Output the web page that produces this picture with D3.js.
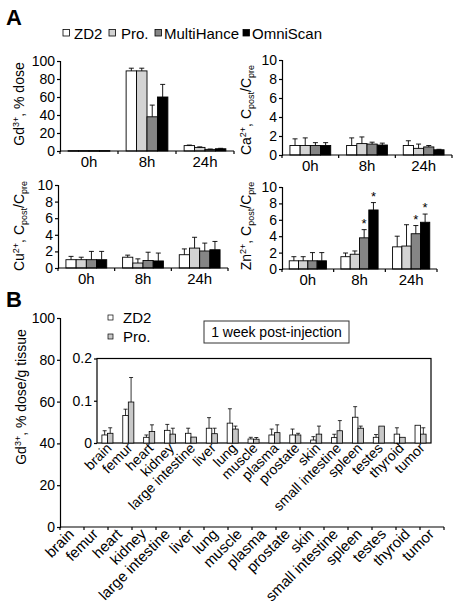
<!DOCTYPE html>
<html><head><meta charset="utf-8">
<script src="https://cdn.jsdelivr.net/npm/d3@7"></script>
<style>
body{margin:0;background:#fff;}
text{font-family:"Liberation Sans",Arial,sans-serif;fill:#000;}
</style></head><body>
<svg id="c" width="461" height="607"></svg>
<script>
// ---------- DATA ----------
const timepoints = ["0h","8h","24h"];
const agents = ["ZD2","Pro.","MultiHance","OmniScan"];
const agentColors = ["#ffffff","#d3d3d3","#858585","#000000"];

// values per timepoint (rows) per agent (cols)
const gdMean = [[0.4,0.4,0.4,0.4],[89,89,38,60],[6,4,1.8,2.5]];
const gdErr  = [[0,0,0,0],[3,3,13,14],[0.6,0.6,0.4,0.5]];
const gdTicks = [0,20,40,60,80,100];

const caMean = [[1,1,1,1],[1,1.2,1.15,1.05],[1,0.7,0.85,0.55]];
const caErr  = [[0.7,0.8,0.3,0.3],[0.8,0.7,0.2,0.2],[0.5,0.45,0.15,0.05]];

const cuMean = [[1,1,1,1],[1.3,0.6,0.9,0.85],[1.6,2.4,2.05,2.2]];
const cuErr  = [[0.4,0.3,1.0,1.0],[0.25,0.5,1.0,0.95],[0.7,1.3,0.95,1.0]];

const znMean = [[1,1,1,1],[1.5,1.8,3.8,7.2],[2.7,2.8,4.3,5.7]];
const znErr  = [[0.5,0.5,1.0,1.0],[0.45,0.4,1.0,0.9],[1.3,2.6,1.0,1.0]];
const znStars = [[0,0,0,0],[0,0,1,1],[0,0,1,1]];
const ratioTicks = [0,2,4,6,8,10];

const tissues = ["brain","femur","heart","kidney","large intestine","liver","lung","muscle","plasma","prostate","skin","small intestine","spleen","testes","thyroid","tumor"];
const bSeries = ["ZD2","Pro."];
const bColors = ["#ffffff","#c8c8c8"];
const zd2Mean = [0.019,0.065,0.0135,0.030,0.023,0.035,0.047,0.0095,0.019,0.019,0.007,0.0127,0.061,0.0135,0.021,0.042];
const zd2Err  = [0.010,0.015,0.0055,0.014,0.012,0.025,0.034,0.004,0.014,0.014,0.008,0.008,0.025,0.0065,0.015,0];
const proMean = [0.023,0.097,0.027,0.021,0.014,0.022,0.033,0.009,0.0245,0.019,0.021,0.029,0.035,0.040,0.0135,0.021];
const proErr  = [0.013,0.058,0.016,0.014,0,0.013,0.007,0.004,0.0185,0.004,0.019,0.024,0.005,0,0,0.015];
const outerTicks = [0,20,40,60,80,100];
const insetTicks = [0,0.1,0.2];

// ---------- HELPERS ----------
const svg = d3.select("#c");
const FS = 14;

function rich(sel, parts){
  parts.forEach((p,i)=>{
    const prev = i>0 ? parts[i-1] : null;
    let dy = 0;
    if(p.sup) dy = -5; else if(p.sub) dy = 3;
    if(prev){ if(prev.sup) dy += 5; else if(prev.sub) dy -= 3; }
    const t = sel.append("tspan").text(p.t).attr("dy", dy);
    if(p.sup||p.sub) t.attr("font-size", 9);
  });
}

function panelA(cfg){
  const g = svg.append("g");
  const x = d3.scaleBand().domain(timepoints).range([cfg.x0,cfg.x1]);
  const bw = x.bandwidth();
  const xs = d3.scaleBand().domain(agents).range([bw*0.14, bw*0.86]);
  const y = d3.scaleLinear().domain([0,cfg.max]).range([cfg.y0,cfg.y1]);

  timepoints.forEach((tp,i)=>{
    agents.forEach((ag,j)=>{
      const v = cfg.mean[i][j], e = cfg.err[i][j];
      const bx = x(tp)+xs(ag);
      g.append("rect").attr("x",bx).attr("y",y(v)).attr("width",xs.bandwidth())
        .attr("height",Math.max(0.6,y(0)-y(v))).attr("fill",agentColors[j])
        .attr("stroke","#000").attr("stroke-width",0.9);
      const cx = bx + xs.bandwidth()/2;
      if(e>0){
        g.append("line").attr("x1",cx).attr("x2",cx).attr("y1",y(v)).attr("y2",y(v+e)).attr("stroke","#000").attr("stroke-width",0.9);
        g.append("line").attr("x1",cx-2.5).attr("x2",cx+2.5).attr("y1",y(v+e)).attr("y2",y(v+e)).attr("stroke","#000").attr("stroke-width",0.9);
      }
      if(cfg.stars && cfg.stars[i][j]){
        g.append("text").attr("x",cx).attr("y",y(v+e)-2).attr("text-anchor","middle").attr("font-size",13).text("*");
      }
    });
  });

  const ya = d3.axisLeft(y).tickValues(cfg.ticks).tickSize(3).tickPadding(2).tickFormat(d3.format("d"));
  const yg = g.append("g").attr("transform",`translate(${cfg.x0},0)`).call(ya);
  yg.select(".domain").attr("stroke","#000").attr("stroke-width",1.2);
  yg.selectAll("text").attr("font-size",FS).attr("font-family","Liberation Sans, Arial, sans-serif");
  yg.selectAll(".tick line").attr("stroke-width",1.2);

  const xg = g.append("g");
  xg.append("line").attr("x1",cfg.x0).attr("x2",cfg.x1).attr("y1",cfg.y0).attr("y2",cfg.y0).attr("stroke","#000").attr("stroke-width",1.2);
  const bounds = timepoints.map(t=>x(t)).concat([cfg.x1]);
  bounds.forEach(b=>xg.append("line").attr("x1",b).attr("x2",b).attr("y1",cfg.y0).attr("y2",cfg.y0+3).attr("stroke","#000").attr("stroke-width",1.2));
  timepoints.forEach(t=>xg.append("text").attr("x",x(t)+bw/2).attr("y",cfg.y0+16).attr("text-anchor","middle").attr("font-size",15).text(t));

  const yl = g.append("text").attr("transform",`translate(${cfg.lx},${cfg.ly}) rotate(-90)`).attr("text-anchor","middle").attr("font-size",FS);
  rich(yl, cfg.label);
}

// ---------- PANEL A ----------
svg.append("text").attr("x",6).attr("y",25).attr("font-size",22).attr("font-weight","bold").text("A");

const legSq = [63,109,155,243];
const legTx = [74,121,164,252];
agents.forEach((a,i)=>{
  svg.append("rect").attr("x",legSq[i]).attr("y",29.5).attr("width",6.5).attr("height",6.5)
    .attr("fill",agentColors[i]).attr("stroke","#000").attr("stroke-width",0.8);
  svg.append("text").attr("x",legTx[i]).attr("y",38.5).attr("font-size",15).text(a);
});

panelA({x0:60,x1:234,y0:151,y1:61,max:100,ticks:gdTicks,mean:gdMean,err:gdErr,lx:24,ly:104,
  label:[{t:"Gd"},{t:"3+",sup:true},{t:", % dose"}]});
panelA({x0:282,x1:452,y0:155,y1:60,max:10,ticks:ratioTicks,mean:caMean,err:caErr,lx:251,ly:110,
  label:[{t:"Ca"},{t:"2+",sup:true},{t:", C"},{t:"post",sub:true},{t:"/C"},{t:"pre",sub:true}]});
panelA({x0:58,x1:228,y0:268,y1:185,max:10,ticks:ratioTicks,mean:cuMean,err:cuErr,lx:24,ly:226,
  label:[{t:"Cu"},{t:"2+",sup:true},{t:", C"},{t:"post",sub:true},{t:"/C"},{t:"pre",sub:true}]});
panelA({x0:282,x1:437,y0:269,y1:187,max:10,ticks:ratioTicks,mean:znMean,err:znErr,stars:znStars,lx:251,ly:226,
  label:[{t:"Zn"},{t:"2+",sup:true},{t:", C"},{t:"post",sub:true},{t:"/C"},{t:"pre",sub:true}]});

// ---------- PANEL B ----------
svg.append("text").attr("x",6).attr("y",307).attr("font-size",22).attr("font-weight","bold").text("B");

const ox = d3.scaleBand().domain(tissues).range([60,444]);
const oy = d3.scaleLinear().domain([0,100]).range([527,318]);
const oyg = svg.append("g").attr("transform","translate(60,0)")
  .call(d3.axisLeft(oy).tickValues(outerTicks).tickSize(3).tickPadding(2));
oyg.select(".domain").attr("stroke-width",1.2);
oyg.selectAll(".tick line").attr("stroke-width",1.2);
oyg.selectAll("text").attr("font-size",FS).attr("font-family","Liberation Sans, Arial, sans-serif");
svg.append("line").attr("x1",60).attr("x2",444).attr("y1",527).attr("y2",527).attr("stroke","#000").attr("stroke-width",1.2);
tissues.map(t=>ox(t)).concat([444]).forEach(b=>svg.append("line").attr("x1",b).attr("x2",b).attr("y1",527).attr("y2",530).attr("stroke","#000").attr("stroke-width",1.2));
tissues.forEach(t=>{
  svg.append("text").attr("transform",`translate(${ox(t)+ox.bandwidth()/2+3},${535}) rotate(-45)`)
    .attr("text-anchor","end").attr("font-size",15).text(t);
});
const byl = svg.append("text").attr("transform","translate(26,397) rotate(-90)").attr("text-anchor","middle").attr("font-size",FS);
rich(byl,[{t:"Gd"},{t:"3+",sup:true},{t:", % dose/g tissue"}]);

bSeries.forEach((s,i)=>{
  svg.append("rect").attr("x",108).attr("y",315+i*19).attr("width",5).attr("height",5)
    .attr("fill",bColors[i]).attr("stroke","#000").attr("stroke-width",0.7);
  svg.append("text").attr("x",123).attr("y",323+i*19).attr("font-size",15).text(s);
});
svg.append("rect").attr("x",204).attr("y",321).attr("width",145).attr("height",22).attr("fill","#fff").attr("stroke","#333").attr("stroke-width",1);
svg.append("text").attr("x",276.5).attr("y",337).attr("text-anchor","middle").attr("font-size",FS).text("1 week post-injection");

const ix = d3.scaleBand().domain(tissues).range([97,431]);
const iy = d3.scaleLinear().domain([0,0.2]).range([443,358.5]);
const ibw = ix.bandwidth();
const ixs = d3.scaleBand().domain(bSeries).range([ibw*0.235, ibw*0.765]);
svg.append("rect").attr("x",97).attr("y",iy(0.2)).attr("width",431-97).attr("height",iy(0)-iy(0.2))
  .attr("fill","none").attr("stroke","#000").attr("stroke-width",1.2);
const bMeans=[zd2Mean,proMean], bErrs=[zd2Err,proErr];
tissues.forEach((t,i)=>{
  bSeries.forEach((s,j)=>{
    const v=bMeans[j][i], e=bErrs[j][i];
    const bx = ix(t)+ixs(s);
    svg.append("rect").attr("x",bx).attr("y",iy(v)).attr("width",ixs.bandwidth()).attr("height",iy(0)-iy(v))
      .attr("fill",bColors[j]).attr("stroke","#000").attr("stroke-width",0.8);
    const cx = bx+ixs.bandwidth()/2;
    if(e>0){
      svg.append("line").attr("x1",cx).attr("x2",cx).attr("y1",iy(v)).attr("y2",iy(v+e)).attr("stroke","#000").attr("stroke-width",0.8);
      svg.append("line").attr("x1",cx-2).attr("x2",cx+2).attr("y1",iy(v+e)).attr("y2",iy(v+e)).attr("stroke","#000").attr("stroke-width",0.8);
    }
  });
  svg.append("text").attr("transform",`translate(${ix(t)+ibw/2+5},${449}) rotate(-45)`)
    .attr("text-anchor","end").attr("font-size",FS).text(t);
});
const iyg = svg.append("g").attr("transform","translate(97,0)")
  .call(d3.axisLeft(iy).tickValues(insetTicks).tickSize(3).tickPadding(2).tickFormat(d=>d===0?"0":d3.format(".1f")(d)));
iyg.select(".domain").remove();
iyg.selectAll(".tick line").attr("stroke-width",1.2);
iyg.selectAll("text").attr("font-size",FS).attr("font-family","Liberation Sans, Arial, sans-serif");
</script>
</body></html>
